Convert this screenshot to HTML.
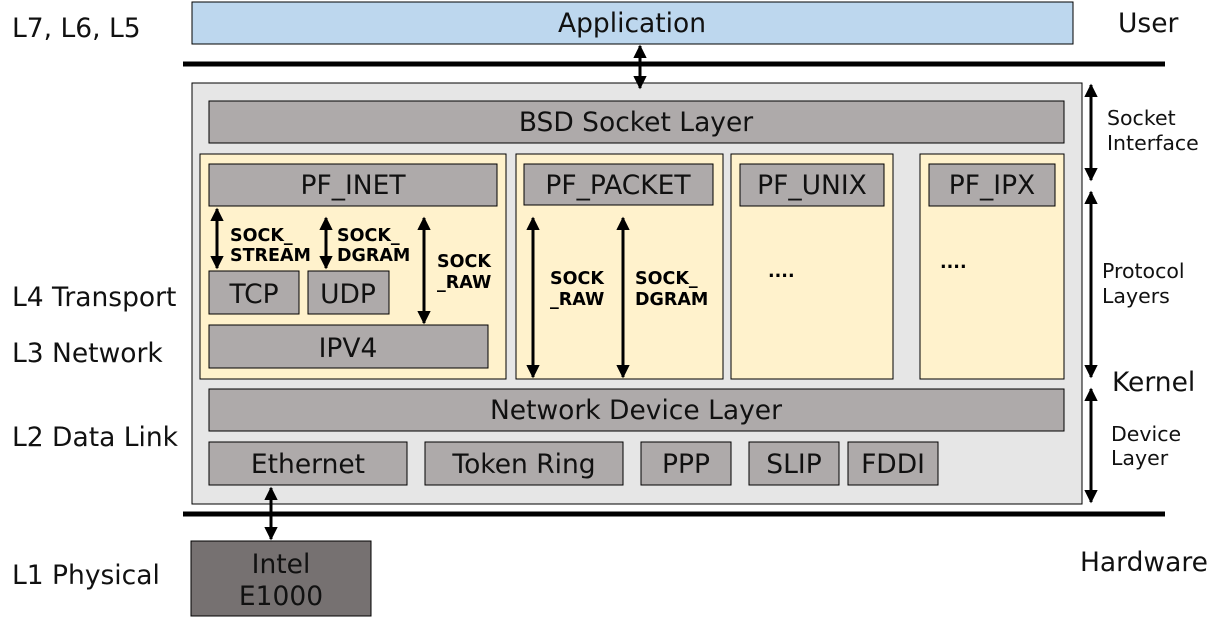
<!DOCTYPE html>
<html><head><meta charset="utf-8"><style>html,body{margin:0;padding:0;background:#fff}svg{display:block}</style></head>
<body>
<svg width="1222" height="617" viewBox="0 0 1222 617" xmlns="http://www.w3.org/2000/svg" font-family="DejaVu Sans, Liberation Sans, sans-serif">
<defs>
<marker id="a" viewBox="0 0 10 10" refX="9" refY="5" markerWidth="4.5" markerHeight="4.5" orient="auto-start-reverse"><path d="M0,0 L10,5 L0,10 z" fill="#000"/></marker>
</defs>
<g stroke="#000" stroke-width="1">
<rect x="192" y="2" width="881" height="42" fill="#bdd7ee"/>
<rect x="192" y="83" width="890" height="421" fill="#e6e6e6"/>
<rect x="209" y="101" width="855" height="42" fill="#aeaaaa"/>
<rect x="200" y="154" width="306" height="225" fill="#fff2cc"/>
<rect x="516" y="154" width="207" height="225" fill="#fff2cc"/>
<rect x="731" y="154" width="162" height="225" fill="#fff2cc"/>
<rect x="920" y="154" width="144" height="225" fill="#fff2cc"/>
<rect x="209" y="164" width="288" height="42" fill="#aeaaaa"/>
<rect x="524" y="164" width="189" height="41" fill="#aeaaaa"/>
<rect x="740" y="164" width="144" height="42" fill="#aeaaaa"/>
<rect x="929" y="164" width="126" height="42" fill="#aeaaaa"/>
<rect x="209" y="271" width="90" height="43" fill="#aeaaaa"/>
<rect x="308" y="271" width="81" height="43" fill="#aeaaaa"/>
<rect x="209" y="325" width="279" height="43" fill="#aeaaaa"/>
<rect x="209" y="389" width="855" height="42" fill="#aeaaaa"/>
<rect x="209" y="442" width="198" height="43" fill="#aeaaaa"/>
<rect x="425" y="442" width="198" height="43" fill="#aeaaaa"/>
<rect x="641" y="442" width="90" height="43" fill="#aeaaaa"/>
<rect x="749" y="442" width="90" height="43" fill="#aeaaaa"/>
<rect x="848" y="442" width="90" height="43" fill="#aeaaaa"/>
<rect x="191" y="541" width="180" height="75" fill="#767171"/>
</g>
<g stroke="#000" stroke-width="5">
<line x1="183" y1="64" x2="1165" y2="64"/>
<line x1="183" y1="514" x2="1165" y2="514"/>
</g>
<g stroke="#000" stroke-width="3" marker-start="url(#a)" marker-end="url(#a)">
<line x1="640" y1="46" x2="640" y2="88"/>
<line x1="271" y1="488" x2="271" y2="539"/>
<line x1="217" y1="209" x2="217" y2="268"/>
<line x1="326" y1="218" x2="326" y2="268"/>
<line x1="424" y1="218" x2="424" y2="323"/>
<line x1="533" y1="218" x2="533" y2="377"/>
<line x1="623" y1="218" x2="623" y2="377"/>
<line x1="1091" y1="85" x2="1091" y2="180"/>
<line x1="1091" y1="192" x2="1091" y2="377"/>
<line x1="1091" y1="389" x2="1091" y2="502"/>
</g>
<g font-size="26.5" text-anchor="middle" fill="#111">
<text x="632" y="32">Application</text>
<text x="636" y="131">BSD Socket Layer</text>
<text x="353" y="194">PF_INET</text>
<text x="618" y="194">PF_PACKET</text>
<text x="812" y="194">PF_UNIX</text>
<text x="992" y="194">PF_IPX</text>
<text x="254" y="303">TCP</text>
<text x="348" y="303">UDP</text>
<text x="348" y="357">IPV4</text>
<text x="636" y="419">Network Device Layer</text>
<text x="308" y="473">Ethernet</text>
<text x="524" y="473">Token Ring</text>
<text x="686" y="473">PPP</text>
<text x="794" y="473">SLIP</text>
<text x="893" y="473">FDDI</text>
<text x="281" y="573">Intel</text>
<text x="281" y="605">E1000</text>
</g>
<g font-size="17.5" font-weight="bold" fill="#000">
<text x="230" y="241">SOCK_</text><text x="230" y="261">STREAM</text>
<text x="337" y="241">SOCK_</text><text x="337" y="261">DGRAM</text>
<text x="437" y="267">SOCK</text><text x="437" y="288">_RAW</text>
<text x="550" y="284">SOCK</text><text x="550" y="305">_RAW</text>
<text x="635" y="284">SOCK_</text><text x="635" y="305">DGRAM</text>
<text x="768" y="277">....</text>
<text x="940" y="268">....</text>
</g>
<g font-size="26.5" fill="#111">
<text x="12" y="37">L7, L6, L5</text>
<text x="12" y="306">L4 Transport</text>
<text x="12" y="362">L3 Network</text>
<text x="12" y="446">L2 Data Link</text>
<text x="12" y="584">L1 Physical</text>
<text x="1118" y="32">User</text>
<text x="1112" y="391">Kernel</text>
<text x="1080" y="571">Hardware</text>
</g>
<g font-size="20.5" fill="#111">
<text x="1107" y="125">Socket</text><text x="1107" y="150">Interface</text>
<text x="1102" y="278">Protocol</text><text x="1102" y="303">Layers</text>
<text x="1111" y="441">Device</text><text x="1111" y="465">Layer</text>
</g>
</svg>
</body></html>
